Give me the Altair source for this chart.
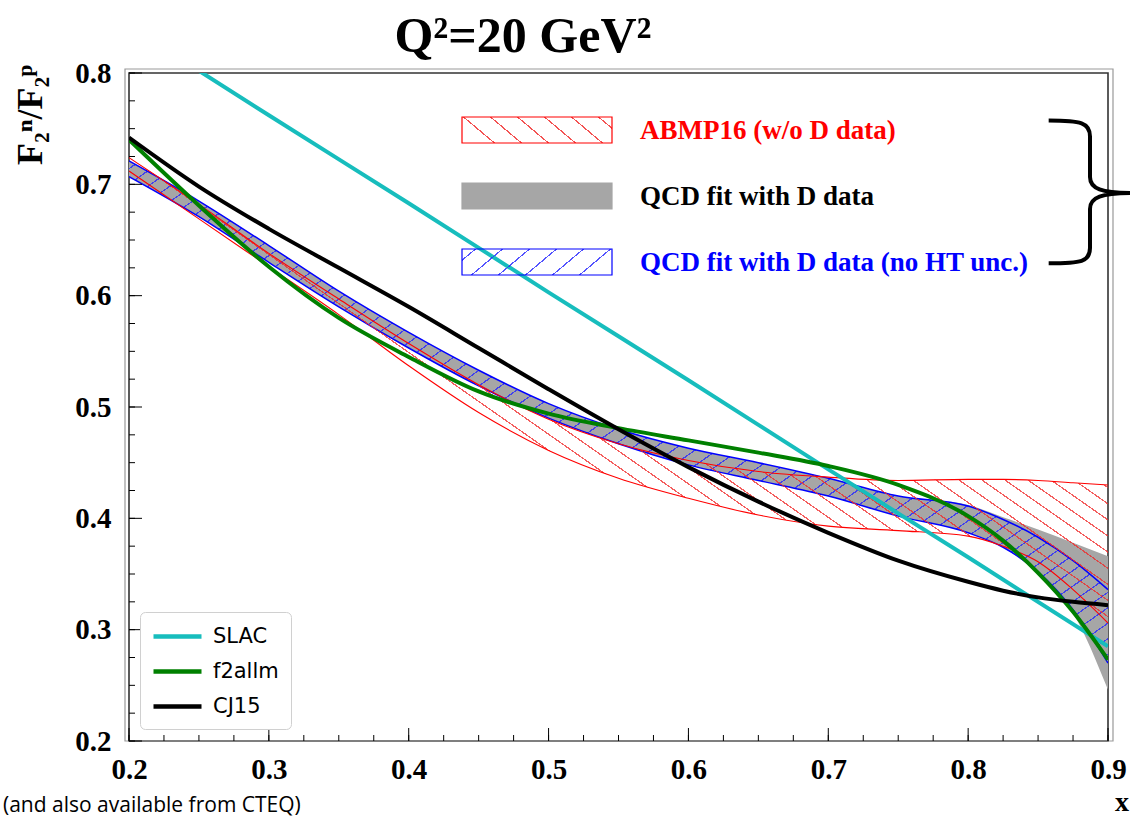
import math
import altair as alt
import pandas as pd

# ---------------- data ----------------
x_grid = [0.2, 0.25, 0.3, 0.35, 0.4, 0.45, 0.5, 0.55, 0.6, 0.65, 0.7, 0.75, 0.8, 0.825, 0.85, 0.875, 0.9]

abmp_lo = [0.712, 0.669, 0.626, 0.583, 0.537, 0.495, 0.461, 0.436, 0.418, 0.403, 0.393, 0.389, 0.384, 0.375, 0.361, 0.336, 0.306]
abmp_hi = [0.724, 0.682, 0.638, 0.597, 0.557, 0.520, 0.489, 0.467, 0.452, 0.442, 0.437, 0.434, 0.435, 0.435, 0.434, 0.432, 0.430]

qcd_lo = [0.707, 0.671, 0.630, 0.590, 0.553, 0.519, 0.490, 0.467, 0.448, 0.434, 0.420, 0.402, 0.387, 0.374, 0.350, 0.315, 0.246]
qcd_hi = [0.721, 0.685, 0.645, 0.604, 0.567, 0.533, 0.503, 0.480, 0.463, 0.450, 0.436, 0.420, 0.412, 0.401, 0.390, 0.378, 0.366]

noht_lo = [0.707, 0.671, 0.630, 0.590, 0.553, 0.519, 0.490, 0.467, 0.448, 0.434, 0.420, 0.402, 0.387, 0.374, 0.352, 0.318, 0.270]
noht_hi = [0.721, 0.685, 0.645, 0.604, 0.567, 0.533, 0.503, 0.480, 0.463, 0.450, 0.436, 0.420, 0.411, 0.399, 0.383, 0.362, 0.336]

f2allm_y = [0.740, 0.681, 0.626, 0.580, 0.545, 0.514, 0.494, 0.481, 0.470, 0.459, 0.447, 0.430, 0.402, 0.380, 0.351, 0.316, 0.273]
cj15_y = [0.742, 0.698, 0.660, 0.625, 0.590, 0.553, 0.516, 0.480, 0.446, 0.415, 0.387, 0.362, 0.343, 0.335, 0.329, 0.325, 0.322]

slac_x = [0.25, 0.3, 0.4, 0.5, 0.6, 0.7, 0.8, 0.9]
slac_y = [0.802, 0.762, 0.683, 0.603, 0.524, 0.444, 0.365, 0.285]

line_names = ["SLAC", "f2allm", "CJ15"]
band_labels = ["ABMP16 (w/o D data)", "QCD fit with D data", "QCD fit with D data (no HT unc.)"]

x_ticks = [0.2, 0.3, 0.4, 0.5, 0.6, 0.7, 0.8, 0.9]
y_ticks = [0.2, 0.3, 0.4, 0.5, 0.6, 0.7, 0.8]
x_minor = [round(0.2 + 0.025 * i, 3) for i in range(29)]
y_minor = [round(0.2 + 0.025 * i, 3) for i in range(25)]

title_text = "Q\u00b2=20 GeV\u00b2"
ytitle_text = "F\u2082\u207f/F\u2082\u1d56"
xtitle_text = "x"
footer_text = "(and also available from CTEQ)"

# ---------------- layout / style ----------------
W, H = 979, 668
XMIN, XMAX, YMIN, YMAX = 0.2, 0.9, 0.2, 0.8
XPX = W / (XMAX - XMIN)
YPX = H / (YMAX - YMIN)
SERIF = "Liberation Serif"
RED, BLUE, GREY = "#ff0000", "#0000ff", "#a6a6a6"
line_colors = ["#17bdbd", "#008000", "#000000"]


def hatch(w, h, angle, hspace, color, thick=1.2):
    th = math.radians(angle)
    nx, ny = -math.sin(th), math.cos(th)
    ax, ay = nx * w, ny * h
    corners = [(0, 0), (1, 0), (0, 1), (1, 1)]
    vals = [ax * u + ay * v for u, v in corners]
    pmin, pmax = min(vals), max(vals)
    R = pmax - pmin
    u1, v1 = corners[vals.index(pmin)]
    k = R / (ax * ax + ay * ay)
    u2, v2 = u1 + k * ax, v1 + k * ay
    p = hspace * abs(math.sin(th))
    clear = "rgba(255,255,255,0)"
    stops = [alt.GradientStop(color=clear, offset=0)]
    n = int(R / p)
    for i in range(n):
        c = (i + 0.5) * p / R
        a = max(c - thick / 2 / R, 0.0)
        b = min(c + thick / 2 / R, 1.0)
        stops += [alt.GradientStop(color=clear, offset=a), alt.GradientStop(color=color, offset=a),
                  alt.GradientStop(color=color, offset=b), alt.GradientStop(color=clear, offset=b)]
    stops.append(alt.GradientStop(color=clear, offset=1))
    return alt.LinearGradient(gradient="linear", stops=stops, x1=u1, y1=v1, x2=u2, y2=v2)


bands = pd.DataFrame({"x": x_grid, "abmp_lo": abmp_lo, "abmp_hi": abmp_hi,
                      "qcd_lo": qcd_lo, "qcd_hi": qcd_hi, "noht_lo": noht_lo, "noht_hi": noht_hi})

rows = []
for xv, yv in zip(slac_x, slac_y):
    rows.append({"x": xv, "y": yv, "series": "SLAC"})
for xv, yv in zip(x_grid, f2allm_y):
    rows.append({"x": xv, "y": yv, "series": "f2allm"})
for xv, yv in zip(x_grid, cj15_y):
    rows.append({"x": xv, "y": yv, "series": "CJ15"})
lines_df = pd.DataFrame(rows)

xs = alt.Scale(domain=[XMIN, XMAX], nice=False, zero=False)
ys = alt.Scale(domain=[YMIN, YMAX], nice=False, zero=False)

ax_common = dict(title=None, ticks=False, domain=False, grid=False, labelFont=SERIF,
                 labelFontWeight="bold", labelFontSize=29, labelColor="black",
                 labelFlush=False, labelOverlap=False, format=".1f")
X_AXIS = alt.Axis(values=x_ticks, labelPadding=14, **ax_common)
Y_AXIS = alt.Axis(values=y_ticks, labelPadding=18, **ax_common)


def X(field):
    return alt.X(field, type="quantitative", scale=xs, axis=X_AXIS)


def Y(field):
    return alt.Y(field, type="quantitative", scale=ys, axis=Y_AXIS)


one = pd.DataFrame({"k": [0]})

outer_frame = alt.Chart(one).mark_rect(fill="white", fillOpacity=0, stroke="#999999", strokeWidth=1.2).encode(
    x=alt.value(-4), x2=alt.value(W + 5), y=alt.value(-4), y2=alt.value(H))

grey = alt.Chart(bands).mark_area(color=GREY, interpolate="monotone", clip=True).encode(
    x=X("x"), y=Y("qcd_lo"), y2="qcd_hi:Q")

blue_h = (max(noht_hi) - min(noht_lo)) * YPX
blue_area = alt.Chart(bands).mark_area(fill=hatch(W, blue_h, -35, 22, "rgba(40,40,255,0.8)"),
                                       interpolate="monotone", clip=True).encode(
    x=X("x"), y=Y("noht_lo"), y2="noht_hi:Q")

red_h = (max(abmp_hi) - min(abmp_lo)) * YPX
red_area = alt.Chart(bands).mark_area(fill=hatch(W, red_h, 35, 23, "rgba(240,40,40,0.75)"),
                                      interpolate="monotone", clip=True).encode(
    x=X("x"), y=Y("abmp_lo"), y2="abmp_hi:Q")


def border(col, color, width):
    return alt.Chart(bands).mark_line(color=color, strokeWidth=width, interpolate="monotone", clip=True).encode(
        x=X("x"), y=Y(col))


SYM = "M -2.4 0 L 2.4 0"
lines = alt.Chart(lines_df).mark_line(strokeWidth=4, interpolate="monotone", clip=True).encode(
    x=X("x"),
    y=Y("y"),
    color=alt.Color("series:N", scale=alt.Scale(domain=line_names, range=line_colors),
                    legend=alt.Legend(title=None, orient="none", legendX=11, legendY=539,
                                      symbolType=SYM, symbolStrokeWidth=4.5, symbolSize=400,
                                      symbolOffset=13,
                                      labelFont="DejaVu Sans", labelFontSize=21, labelColor="black",
                                      fillColor="white", strokeColor="#d0d0d0", cornerRadius=5,
                                      padding=12, rowPadding=12, labelOffset=23)),
    detail="series:N",
)

# inward ticks
xt_major = alt.Chart(pd.DataFrame({"t": x_ticks})).mark_rule(color="black", strokeWidth=1).encode(
    x=X("t"), y=alt.value(H), y2=alt.value(H - 13))
xt_minor = alt.Chart(pd.DataFrame({"t": x_minor})).mark_rule(color="black", strokeWidth=1).encode(
    x=X("t"), y=alt.value(H), y2=alt.value(H - 6))
yt_major = alt.Chart(pd.DataFrame({"t": y_ticks})).mark_rule(color="black", strokeWidth=1).encode(
    y=Y("t"), x=alt.value(0), x2=alt.value(13))
yt_minor = alt.Chart(pd.DataFrame({"t": y_minor})).mark_rule(color="black", strokeWidth=1).encode(
    y=Y("t"), x=alt.value(0), x2=alt.value(6))

# band legend (top right)
leg_boxes = []
box_fills = [hatch(150, 26, 40, 27, "rgba(240,40,40,0.8)"), GREY, hatch(150, 26, -40, 27, "rgba(40,40,255,0.8)")]
box_strokes = [RED, GREY, BLUE]
box_tops = [44, 110, 176]
text_colors = [RED, "black", BLUE]
for i in range(3):
    leg_boxes.append(alt.Chart(one).mark_rect(fill=box_fills[i], stroke=box_strokes[i], strokeWidth=1.2).encode(
        x=alt.value(333), x2=alt.value(483), y=alt.value(box_tops[i]), y2=alt.value(box_tops[i] + 26)))
    leg_boxes.append(alt.Chart(pd.DataFrame({"label": [band_labels[i]]})).mark_text(
        font=SERIF, fontWeight="bold", fontSize=27, color=text_colors[i], align="left", baseline="middle").encode(
        text="label:N", x=alt.value(511), y=alt.value(box_tops[i] + 14)))

BRACE = ("M -0.57 -1 C -0.12 -1 0 -0.97 0 -0.78 L 0 -0.22 C 0 -0.06 0.15 0 0.6 0 "
         "C 0.15 0 0 0.06 0 0.22 L 0 0.76 C 0 0.95 -0.12 0.97 -0.57 0.97")
brace = alt.Chart(one).mark_point(shape=BRACE, filled=False, stroke="black", strokeWidth=4,
                                  size=145 * 145, opacity=1, strokeJoin="miter").encode(
    x=alt.value(961), y=alt.value(120))

title = alt.Chart(pd.DataFrame({"t": [title_text]})).mark_text(
    font=SERIF, fontWeight="bold", fontSize=50, color="black", align="center", baseline="alphabetic").encode(
    text="t:N", x=alt.value(394), y=alt.value(-21))
ytitle = alt.Chart(pd.DataFrame({"t": [ytitle_text]})).mark_text(
    font=SERIF, fontWeight="bold", fontSize=36, color="black", align="center", baseline="middle", angle=270).encode(
    text="t:N", x=alt.value(-98), y=alt.value(42))
xtitle = alt.Chart(pd.DataFrame({"t": [xtitle_text]})).mark_text(
    font=SERIF, fontWeight="bold", fontSize=28, color="black", align="center", baseline="middle").encode(
    text="t:N", x=alt.value(993), y=alt.value(62 + H))
footer = alt.Chart(pd.DataFrame({"t": [footer_text]})).mark_text(
    font="Open Sans", fontSize=21, color="black", align="left", baseline="alphabetic").encode(
    text="t:N", x=alt.value(-126), y=alt.value(H + 71))

chart = alt.layer(
    outer_frame,
    grey, blue_area, border("noht_lo", BLUE, 1.5), border("noht_hi", BLUE, 1.5),
    red_area, border("abmp_lo", RED, 1.1), border("abmp_hi", RED, 1.1),
    lines, xt_major, xt_minor, yt_major, yt_minor, *leg_boxes, brace, title, ytitle, xtitle, footer,
).properties(
    width=W, height=H,
    padding={"left": 129, "top": 73, "right": 22, "bottom": 78},
    autosize=alt.AutoSizeParams(type="none"),
    background="white",
).configure_view(stroke="#333333", strokeWidth=1.6)

chart.save("out.html", embed_options={"renderer": "svg", "actions": False})
